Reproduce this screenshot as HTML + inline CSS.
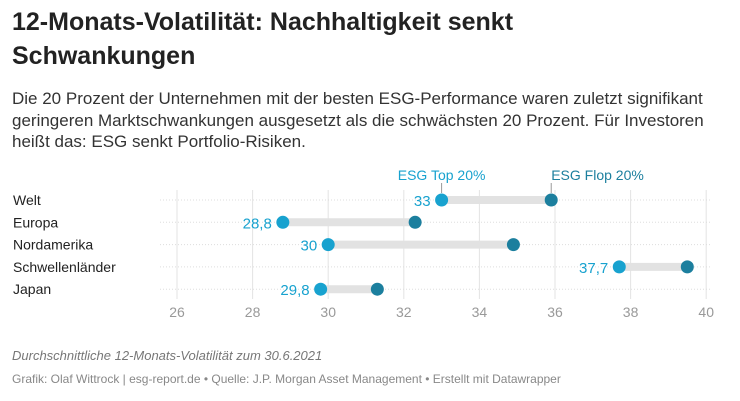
<!DOCTYPE html>
<html><head><meta charset="utf-8"><style>
body{margin:0;width:740px;height:401px;background:#fff;font-family:"Liberation Sans",sans-serif;overflow:hidden;position:relative}
h1{position:absolute;left:12px;top:5px;margin:0;font-size:25px;line-height:34px;font-weight:bold;color:#222;width:560px}
p.desc{position:absolute;left:12px;top:88px;margin:0;font-size:17px;line-height:21.5px;color:#333;width:722px}
.note{position:absolute;left:12px;top:348px;font-size:13px;font-style:italic;color:#777}
.src{position:absolute;left:12px;top:372px;font-size:12px;color:#888}
svg{position:absolute;left:0;top:0}
</style></head><body>
<h1>12-Monats-Volatilität: Nachhaltigkeit senkt Schwankungen</h1>
<p class="desc">Die 20 Prozent der Unternehmen mit der besten ESG-Performance waren zuletzt signifikant geringeren Marktschwankungen ausgesetzt als die schwächsten 20 Prozent. Für Investoren heißt das: ESG senkt Portfolio-Risiken.</p>
<svg id="chart" width="740" height="401"></svg>
<div class="note">Durchschnittliche 12-Monats-Volatilität zum 30.6.2021</div>
<div class="src">Grafik: Olaf Wittrock | esg-report.de • Quelle: J.P. Morgan Asset Management • Erstellt mit Datawrapper</div>
<script>
const categories=["Welt","Europa","Nordamerika","Schwellenländer","Japan"];
const topValues=[33,28.8,30,37.7,29.8];
const topLabels=["33","28,8","30","37,7","29,8"];
const flopValues=[35.9,32.3,34.9,39.5,31.3];
const ticks=[26,28,30,32,34,36,38,40];
const NS="http://www.w3.org/2000/svg";
const svg=document.getElementById("chart");
const x=v=>177+(v-26)*37.8;
const y=i=>200+i*22.3;
function mk(t,a,txt){const e=document.createElementNS(NS,t);for(const k in a)e.setAttribute(k,a[k]);if(txt!=null)e.textContent=txt;svg.appendChild(e);return e;}
ticks.forEach(t=>{
 const g=mk("line",{x1:x(t),x2:x(t),y1:190,y2:299,stroke:"#e3e3e3","stroke-width":1});
 
 
 const l=mk("text",{x:x(t),y:317,"text-anchor":"middle","font-size":14,fill:"#999","font-family":"Liberation Sans, sans-serif"},String(t));
 
 
});
categories.forEach((c,i)=>{
 const d=mk("line",{x1:160,x2:712,y1:y(i),y2:y(i),stroke:"#ddd","stroke-dasharray":"1,2"});
 
 
 const cl=mk("text",{x:13,y:y(i)+5,"font-size":14,fill:"#222","font-family":"Liberation Sans, sans-serif"},c);
 
 
 const b=mk("line",{x1:x(topValues[i]),x2:x(flopValues[i]),y1:y(i),y2:y(i),stroke:"#e2e2e2","stroke-width":8});
 
 
 const f=mk("circle",{cx:x(flopValues[i]),cy:y(i),r:6.5,fill:"#1c7f9e"});
 
 
 const tp=mk("circle",{cx:x(topValues[i]),cy:y(i),r:6.5,fill:"#18a2cf"});
 
 
 const v=mk("text",{x:x(topValues[i])-11,y:y(i)+6,"text-anchor":"end","font-size":15,fill:"#18a2cf","font-family":"Liberation Sans, sans-serif"},topLabels[i]);
 
 
});
const l1=mk("line",{x1:x(topValues[0]),x2:x(topValues[0]),y1:183,y2:193,stroke:"#999"});


const l2=mk("line",{x1:x(flopValues[0]),x2:x(flopValues[0]),y1:183,y2:193,stroke:"#999"});


const t1=mk("text",{x:x(topValues[0]),y:180,"text-anchor":"middle","font-size":14,fill:"#18a2cf","font-family":"Liberation Sans, sans-serif"},"ESG Top 20%");


const t2=mk("text",{x:x(flopValues[0]),y:180,"font-size":14,fill:"#1c7f9e","font-family":"Liberation Sans, sans-serif"},"ESG Flop 20%");


</script>
</body></html>
